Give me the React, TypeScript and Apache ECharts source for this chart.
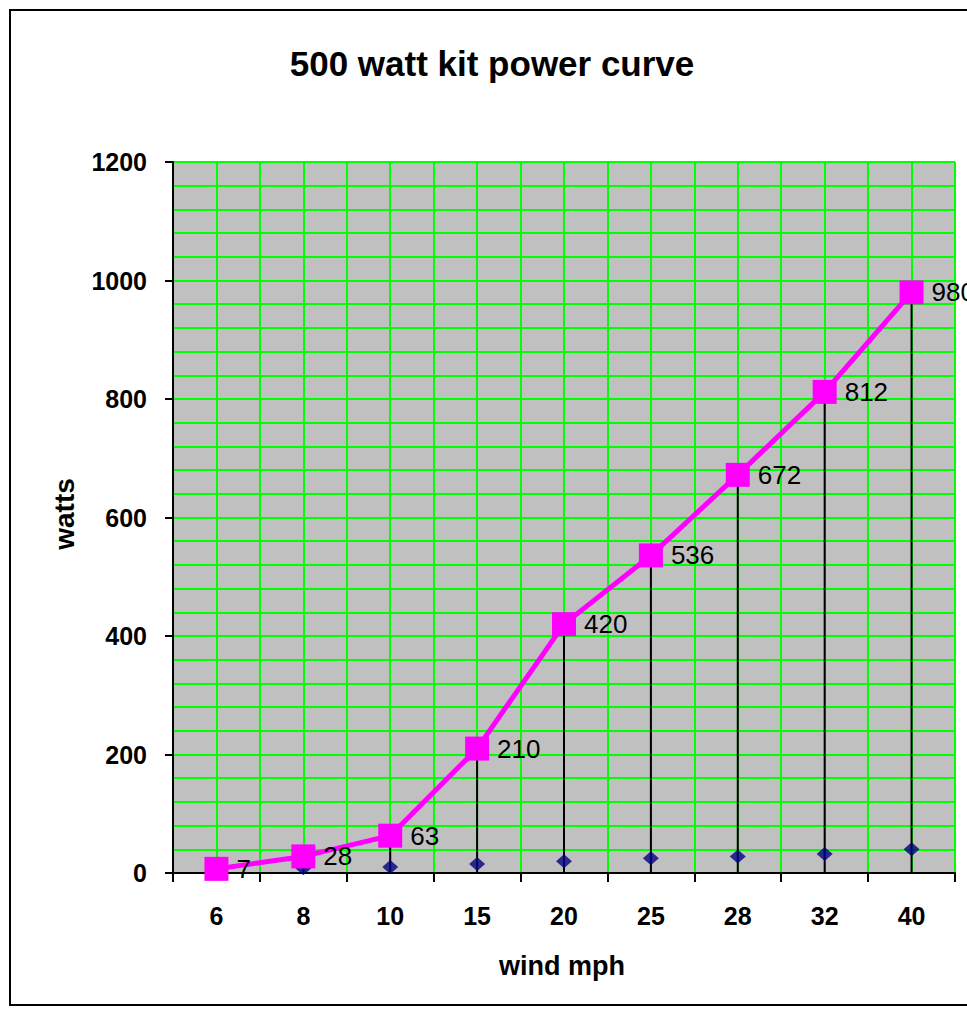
import React, { useEffect, useRef } from "react";
import * as echarts from "echarts";

const categories = ["6", "8", "10", "15", "20", "25", "28", "32", "40"];
const watts = [7, 28, 63, 210, 420, 536, 672, 812, 980];
const windMarks = [6, 8, 10, 15, 20, 25, 28, 32, 40];
const titleText = "500 watt kit power curve";
const xName = "wind mph";
const yName = "watts";

const FONT = "'Liberation Sans', Arial, sans-serif";
const GREEN = "#00ff00";

export default function App() {
  const ref = useRef<HTMLDivElement>(null);
  useEffect(() => {
    if (!ref.current) return;
    const chart = echarts.init(ref.current, undefined, { renderer: "svg" });
    chart.setOption({
      animation: false,
      backgroundColor: "#ffffff",
      grid: {
        left: 173,
        top: 162,
        right: 12,
        bottom: 138,
        show: true,
        backgroundColor: "#c0c0c0",
        borderColor: "#808080",
        borderWidth: 1,
      },
      graphic: [
        {
          type: "rect",
          shape: { x: 10, y: 10, width: 975, height: 995 },
          style: { fill: "none", stroke: "#000", lineWidth: 2 },
          silent: true,
        },
        {
          type: "text",
          x: 492,
          y: 63,
          style: {
            text: titleText,
            textAlign: "center",
            textVerticalAlign: "middle",
            font: `bold 35px ${FONT}`,
            fill: "#000",
          },
        },
        {
          type: "text",
          x: 562,
          y: 966,
          style: {
            text: xName,
            textAlign: "center",
            textVerticalAlign: "middle",
            font: `bold 27px ${FONT}`,
            fill: "#000",
          },
        },
        {
          type: "text",
          x: 64,
          y: 514,
          rotation: Math.PI / 2,
          style: {
            text: yName,
            textAlign: "center",
            textVerticalAlign: "middle",
            font: `bold 28px ${FONT}`,
            fill: "#000",
          },
        },
      ],
      xAxis: [
        {
          type: "category",
          data: categories,
          boundaryGap: true,
          axisLine: { lineStyle: { color: "#000", width: 2 } },
          axisTick: { show: true, length: 9, lineStyle: { color: "#000", width: 2 } },
          axisLabel: {
            margin: 43,
            verticalAlign: "middle",
            color: "#000",
            fontFamily: FONT,
            fontWeight: "bold",
            fontSize: 25,
          },
          splitLine: { show: false },
        },
        {
          type: "value",
          min: 0,
          max: 18,
          interval: 1,
          position: "bottom",
          axisLine: { show: false },
          axisTick: { show: false },
          axisLabel: { show: false },
          splitLine: { show: true, lineStyle: { color: GREEN, width: 2 } },
        },
      ],
      yAxis: {
        type: "value",
        min: 0,
        max: 1200,
        interval: 200,
        axisLine: { show: true, lineStyle: { color: "#000", width: 2 } },
        axisTick: { show: true, length: 8, lineStyle: { color: "#000", width: 2 } },
        axisLabel: {
          margin: 26,
          color: "#000",
          fontFamily: FONT,
          fontWeight: "bold",
          fontSize: 25,
          formatter: (v: number) => String(v),
        },
        splitLine: { show: true, lineStyle: { color: GREEN, width: 2 } },
        minorTick: { show: false, splitNumber: 5 },
        minorSplitLine: { show: true, lineStyle: { color: GREEN, width: 2 } },
      },
      series: [
        {
          type: "bar",
          data: watts,
          barWidth: 2,
          itemStyle: { color: "#000" },
          silent: true,
          z: 4,
        },
        {
          type: "scatter",
          data: windMarks,
          symbol: "diamond",
          symbolSize: [16, 14],
          itemStyle: { color: "#000080" },
          z: 5,
        },
        {
          type: "line",
          data: watts,
          symbol: "rect",
          symbolSize: 24,
          showAllSymbol: true,
          lineStyle: { color: "#ff00ff", width: 5 },
          itemStyle: { color: "#ff00ff" },
          label: {
            show: true,
            position: "right",
            distance: 8,
            color: "#000",
            fontFamily: FONT,
            fontSize: 26,
          },
          z: 6,
        },
      ],
    });
    return () => chart.dispose();
  }, []);
  return (
    <div
      ref={ref}
      style={{ position: "absolute", left: 0, top: 0, width: 967, height: 1011 }}
    />
  );
}
